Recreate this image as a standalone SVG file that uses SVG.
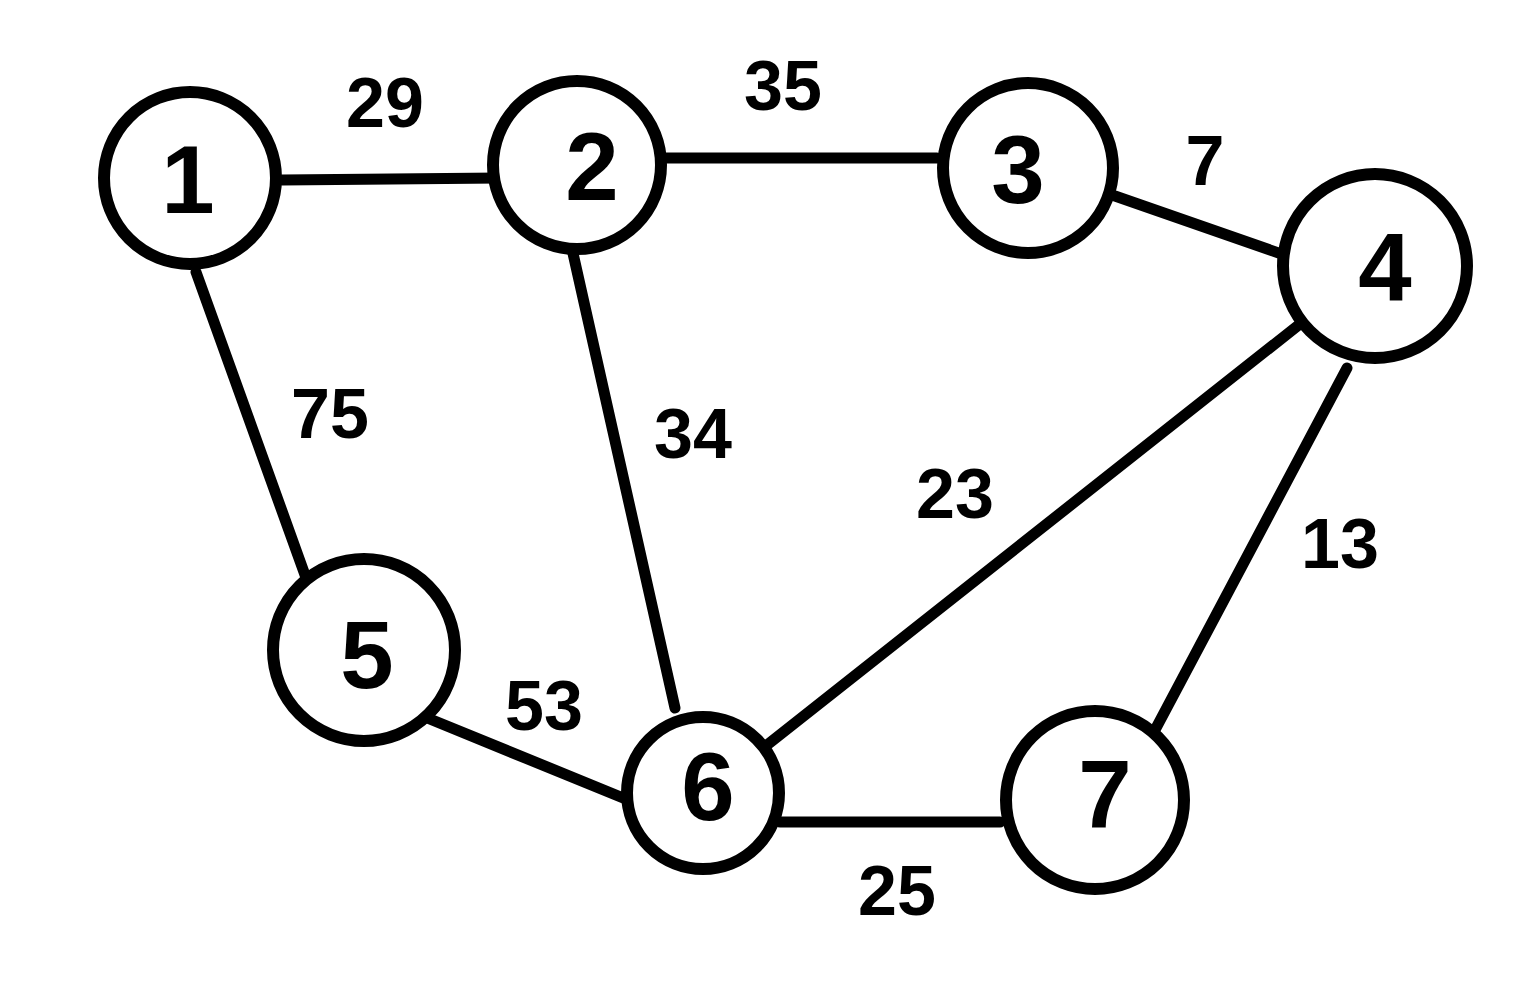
<svg xmlns="http://www.w3.org/2000/svg" width="1540" height="1000" viewBox="0 0 1540 1000">
<style>
.n{fill:#fff;stroke:#000;stroke-width:12}
.e{stroke:#000;stroke-width:11;stroke-linecap:round;fill:none}
.nt{font-family:"Liberation Sans",Arial,sans-serif;font-size:96px;font-weight:bold;text-anchor:middle;fill:#000}
.lt{font-family:"Liberation Sans",Arial,sans-serif;font-size:70px;font-weight:bold;text-anchor:middle;fill:#000}
</style>
<rect width="1540" height="1000" fill="#fff"/>
<g id="edges">
<line class="e" x1="282" y1="180" x2="500" y2="178"/>
<line class="e" x1="662" y1="158" x2="937" y2="158"/>
<line class="e" x1="1115" y1="196" x2="1293" y2="258"/>
<line class="e" x1="1305" y1="320" x2="767" y2="745"/>
<line class="e" x1="1347" y1="368" x2="1155" y2="730"/>
<line class="e" x1="570" y1="240" x2="675" y2="708"/>
<line class="e" x1="196" y1="272" x2="305" y2="575"/>
<line class="e" x1="420" y1="715" x2="633" y2="802"/>
<line class="e" x1="780" y1="822" x2="1000" y2="822"/>
</g>
<g id="node1"><circle class="n" cx="190" cy="178" r="86"/><text class="nt" x="188" y="213">1</text></g>
<g id="node2"><circle class="n" cx="577" cy="165" r="84"/><text class="nt" x="592" y="200">2</text></g>
<g id="node3"><circle class="n" cx="1028" cy="168" r="85"/><text class="nt" x="1018" y="203">3</text></g>
<g id="node4"><circle class="n" cx="1375" cy="266" r="92"/><text class="nt" x="1385" y="301">4</text></g>
<g id="node5"><circle class="n" cx="364" cy="650" r="91"/><text class="nt" x="367" y="688">5</text></g>
<g id="node6"><circle class="n" cx="703" cy="793" r="76"/><text class="nt" x="708" y="820">6</text></g>
<g id="node7"><circle class="n" cx="1095" cy="800" r="89"/><text class="nt" x="1105" y="828">7</text></g>
<g id="labels">
<text class="lt" x="385" y="127">29</text>
<text class="lt" x="783" y="110">35</text>
<text class="lt" x="1205" y="185">7</text>
<text class="lt" x="330" y="438">75</text>
<text class="lt" x="693" y="458">34</text>
<text class="lt" x="955" y="518">23</text>
<text class="lt" x="1340" y="568">13</text>
<text class="lt" x="544" y="730">53</text>
<text class="lt" x="897" y="915">25</text>
</g>
</svg>
